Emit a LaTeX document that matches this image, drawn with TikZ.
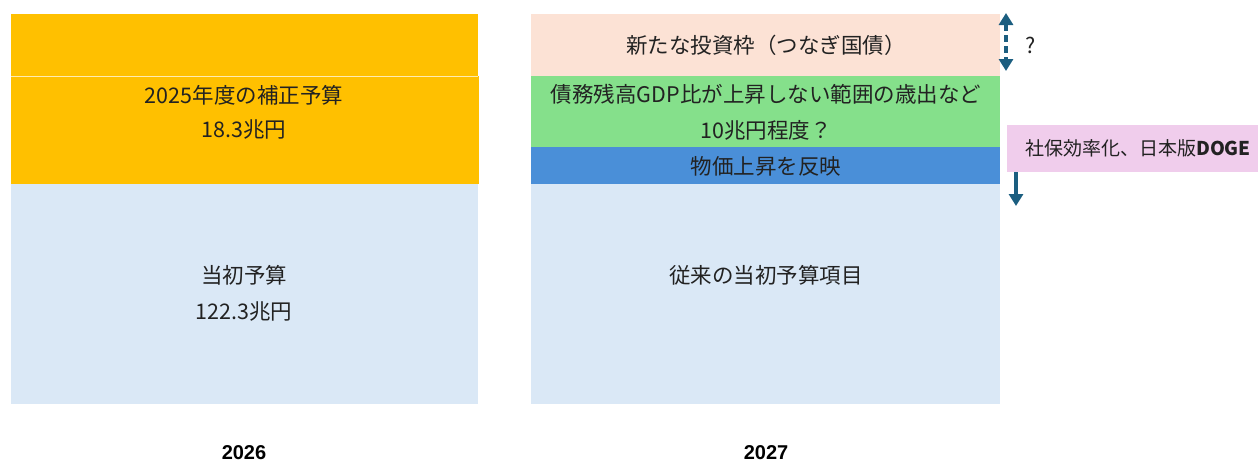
\documentclass[tikz,border=0pt]{standalone}
\usepackage{fontspec}
\setmainfont{Noto Sans CJK JP}
\newfontfamily\yearfont{Liberation Sans}
\usetikzlibrary{arrows.meta}
\definecolor{cyellow}{HTML}{FFC000}
\definecolor{clblue}{HTML}{DAE8F6}
\definecolor{cpeach}{HTML}{FCE2D5}
\definecolor{cgreen}{HTML}{85E08B}
\definecolor{cblue}{HTML}{4A8FD8}
\definecolor{cpink}{HTML}{F0CDEC}
\definecolor{carrow}{HTML}{1B5E80}
\definecolor{ctext}{HTML}{222222}
\tikzset{
  blk/.style={draw=none, inner sep=0pt, anchor=north west},
  lbl/.style={text=ctext, font=\fontsize{21.5}{21.5}\selectfont, inner sep=0pt},
  small/.style={text=ctext, font=\fontsize{19}{19}\selectfont, inner sep=0pt},
  yr/.style={text=black, font=\yearfont\bfseries\fontsize{20}{20}\selectfont, inner sep=0pt, anchor=base},
  arr/.style={draw=carrow, line width=4pt, -{Triangle[width=14pt,length=12pt]}},
  darr/.style={draw=carrow, line width=4pt, dash pattern=on 7pt off 4pt, {Triangle[width=14pt,length=12pt]}-{Triangle[width=14pt,length=12pt]}}
}
\begin{document}
\begin{tikzpicture}[x=1pt,y=-1pt]
\useasboundingbox (0,0) rectangle (1258,463);
% left column
\node[blk, fill=cyellow, minimum width=467pt, minimum height=62pt] (ytop) at (11,14) {};
\node[blk, fill=cyellow, minimum width=468pt, minimum height=108pt] (ybot) at (11,76) {};
\draw[white!70!cyellow, line width=0.6pt] (ytop.south west) -- (ytop.south east);
\node[blk, fill=clblue, minimum width=467pt, minimum height=220pt] (lb) at (11,184) {};
% right column
\node[blk, fill=cpeach, minimum width=469pt, minimum height=62pt] (peach) at (531,14) {};
\node[blk, fill=cgreen, minimum width=469pt, minimum height=71pt] (green) at (531,76) {};
\node[blk, fill=cblue, minimum width=469pt, minimum height=37pt] (blue) at (531,147) {};
\node[blk, fill=clblue, minimum width=469pt, minimum height=220pt] (rb) at (531,184) {};
% pink box
\node[blk, fill=cpink, minimum width=251pt, minimum height=47pt] (pink) at (1007,125) {};
% texts
\node[lbl] (t1) at (244,95) {2025年度の補正予算};
\node[lbl] (t2) at (244,130) {18.3兆円};
\node[lbl] (t3) at (244,275) {当初予算};
\node[lbl] (t4) at (244,312) {122.3兆円};
\node[lbl] (t5) at (766,45) {新たな投資枠（つなぎ国債）};
\node[lbl] (t6) at (766,94) {債務残高GDP比が上昇しない範囲の歳出など};
\node[lbl] (t7) at (766,130) {10兆円程度？};
\node[lbl] (t8) at (766,166) {物価上昇を反映};
\node[lbl] (t9) at (766,275) {従来の当初予算項目};
\node[small, anchor=west] (t10) at (1025,148) {社保効率化、日本版\textbf{DOGE}};
\node[lbl] (q) at (1031,45) {?};
\node[yr] (y1) at (244,459) {2026};
\node[yr] (y2) at (766,459) {2027};
% arrows
\coordinate (da1) at (1006,13);
\coordinate (da2) at (1006,71);
\draw[darr] (da1) -- (da2);
\coordinate (pa) at (1016,206);
\draw[arr] (pink.south west -| pa) -- (pa);
\end{tikzpicture}
\end{document}
